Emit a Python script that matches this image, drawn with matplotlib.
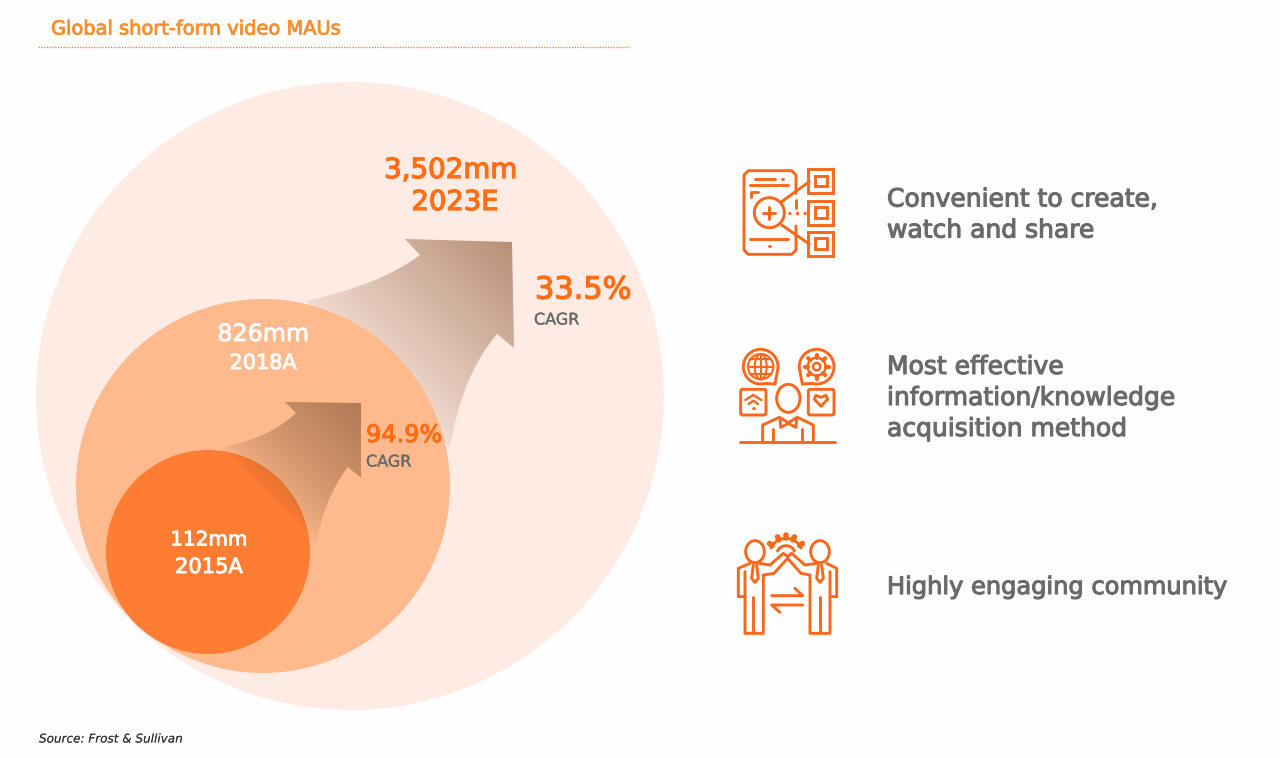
import numpy as np
import matplotlib
matplotlib.use("Agg")
import matplotlib.pyplot as plt
import matplotlib.patheffects as pe
from matplotlib.patches import Circle, Ellipse, FancyBboxPatch, PathPatch, Rectangle
from matplotlib.path import Path

plt.rcParams["font.family"] = "DejaVu Sans"

# Chart values
years = ["2015A", "2018A", "2023E"]
users = ["112mm", "826mm", "3,502mm"]
cagr = ["94.9%", "33.5%"]
cagr_label = "CAGR"
reasons = ["Convenient to create,\nwatch and share",
           "Most effective\ninformation/knowledge\nacquisition method",
           "Highly engaging community"]
title = "Global short-form video MAUs"
source = "Source: Frost & Sullivan"

ORANGE = "#ff6d14"
ICON = "#f9671b"
GREY = "#6a6a6a"

fig = plt.figure(figsize=(12.8, 7.58), dpi=100, facecolor="#fefefe")
ax = fig.add_axes([0, 0, 1, 1])


def gradient_arrow(verts, codes, box, rgb, a_start, a_end, t_start, zorder, gamma=1.0):
    # colour fades along the lower-left to upper-right diagonal of box
    x0, y0, x1, y1 = box
    xs, ys = np.meshgrid(np.linspace(0, 1, 300), np.linspace(1, 0, 300))
    t = (xs + ys) / 2
    t = np.clip((t - t_start) / (1 - t_start), 0, 1) ** gamma
    img = np.zeros((300, 300, 4))
    img[..., 0], img[..., 1], img[..., 2] = rgb[0], rgb[1], rgb[2]
    img[..., 3] = a_start + (a_end - a_start) * t
    im = ax.imshow(img, extent=(x0, x1, y1, y0), origin="upper", zorder=zorder,
                   interpolation="bilinear", aspect="auto")
    im.set_clip_path(PathPatch(Path(verts, codes), transform=ax.transData))


M, C3, LN = Path.MOVETO, Path.CURVE3, Path.LINETO

# -----------------------------
# Circles and arrows
# -----------------------------
ax.add_patch(Circle((350, 396), 314, fc="#feece4", ec="none", zorder=1))

big_verts = [(306, 301), (380, 285), (420, 255), (405, 239), (512, 242), (514, 348),
             (497, 334), (462, 375), (450, 447), (400, 400), (306, 301)]
big_codes = [M, C3, C3, LN, LN, LN, LN, C3, C3, LN, LN]
gradient_arrow(big_verts, big_codes, (290, 230, 520, 460), (0.55, 0.34, 0.20), 0.12, 0.66, 0.38, 2)

ax.add_patch(Circle((263, 486), 187, fc="#feba8c", ec="none", zorder=3))
ax.add_patch(Circle((208, 552), 102, fc="#ff7d32", ec="none", zorder=4))

small_verts = [(220, 448), (270, 438), (296, 413), (285, 402), (361, 403), (361, 478),
               (348, 467), (322, 500), (315, 553), (220, 448)]
small_codes = [M, C3, C3, LN, LN, LN, LN, C3, C3, LN]
gradient_arrow(small_verts, small_codes, (200, 400, 362, 562), (0.45, 0.28, 0.16), 0.0, 0.56, 0.415, 5, gamma=0.6)


# -----------------------------
# Labels
# -----------------------------
def label(x, y, s, size, color, stroke=0.6, **kw):
    ax.text(x, y, s, fontsize=size * 0.72, color=color, ha=kw.pop("ha", "center"), va="center",
            zorder=8, path_effects=[pe.withStroke(linewidth=stroke, foreground=color)], **kw)


label(51, 29, title, 19.4, "#f88f2c", ha="left")
ax.plot([38, 630], [47, 47], color="#f9804a", lw=1, ls=(0, (1, 1)), zorder=2)
label(39, 739, source, 12, "#333333", stroke=0, ha="left", style="italic")

label(451, 170, users[2], 27.7, ORANGE, stroke=0.9)
label(455, 203, years[2], 27.4, ORANGE, stroke=0.9)
label(263, 334, users[1], 23.8, "white")
label(263, 363, years[1], 20.8, "white")
label(209, 540, users[0], 20, "white")
label(209, 567, years[0], 21, "white")

label(535, 290, cagr[1], 30.4, ORANGE, stroke=0.9, ha="left")
label(534, 320, cagr_label, 16, GREY, stroke=0.3, ha="left")
label(366, 435, cagr[0], 24, ORANGE, stroke=0.8, ha="left")
label(366, 462, cagr_label, 16, GREY, stroke=0.3, ha="left")

for y, s, size in zip([215, 398, 587], reasons, [25, 25, 24.1]):
    label(887, y, s, size, GREY, stroke=0.8, ha="left", linespacing=1.37)


# -----------------------------
# Icons, drawn from the 3x zoom grid
# -----------------------------
def icon_tools(ox, oy, lw=2.1):
    def pt(x, y):
        return ox + x / 3, oy + y / 3

    def line(*pts, **kw):
        xy = [pt(*p) for p in pts]
        ax.plot([p[0] for p in xy], [p[1] for p in xy], color=ICON, lw=kw.get("lw", lw),
                ls=kw.get("ls", "-"), solid_capstyle="round", solid_joinstyle="round", zorder=8)

    def circle(x, y, r, width=lw):
        ax.add_patch(Circle(pt(x, y), r / 3, fc="none", ec=ICON, lw=width, zorder=8))

    def box(x0, y0, x1, y1, pad=0):
        if pad:
            ax.add_patch(FancyBboxPatch(pt(x0 + pad, y0 + pad), (x1 - x0 - 2 * pad) / 3, (y1 - y0 - 2 * pad) / 3,
                                        boxstyle=f"round,pad={pad / 3},rounding_size={pad / 3}",
                                        fc="none", ec=ICON, lw=lw, zorder=8))
        else:
            ax.add_patch(Rectangle(pt(x0, y0), (x1 - x0) / 3, (y1 - y0) / 3, fc="none", ec=ICON, lw=lw, zorder=8))

    return line, circle, box, pt


# phone with magnifier
line, circle, box, pt = icon_tools(720, 150)
line((228, 130), (228, 75), (215, 62), (85, 62), (72, 75), (72, 300), (85, 313), (215, 313), (228, 300), (228, 228))
line((228, 150), (228, 175))
line((105, 86), (165, 86))
line((185, 86), (188, 86))
line((90, 106), (205, 106))
line((92, 142), (92, 125), (115, 125))
circle(148, 188, 45)
line((148, 170), (148, 206))
line((130, 188), (166, 188))
line((185, 155), (268, 95))
line((185, 225), (268, 282))
line((205, 188), (265, 188), ls=(0, (1, 1.6)))
line((90, 267), (205, 267))
line((146, 288), (150, 288))
for y0 in [57, 152, 245]:
    box(265, y0, 338, y0 + 72)
    box(285, y0 + 20, 320, y0 + 52)

# person with four bubbles
line, circle, box, pt = icon_tools(720, 340)
for cx, sgn in [(122, 1), (290, -1)]:
    angles = np.radians(np.linspace(75, 375, 80))
    bx = cx + sgn * 52 * np.cos(angles)
    by = 80 + 52 * np.sin(angles)
    line((cx + sgn * 43, 132), *zip(bx, by), (cx + sgn * 43, 132))
circle(122, 80, 38, 1.5)
ax.add_patch(Ellipse(pt(122, 80), 36 / 3, 76 / 3, fc="none", ec=ICON, lw=1.5, zorder=8))
for y, half in [(58, 31), (80, 38), (102, 31)]:
    line((122 - half, y), (122 + half, y), lw=1.5)
line((122, 42), (122, 118), lw=1.5)
circle(290, 80, 11, 1.8)
circle(290, 80, 27, 1.8)
for a in np.radians(np.arange(0, 360, 45)):
    line((290 + 27 * np.cos(a), 80 + 27 * np.sin(a)), (290 + 36 * np.cos(a), 80 + 36 * np.sin(a)), lw=3)
box(62, 148, 138, 225, pad=6)
box(265, 148, 342, 225, pad=6)
line((76, 180), (100, 165), (124, 180), lw=1.7)
line((86, 192), (100, 182), (114, 192), lw=1.7)
line((98, 205), (102, 205))
line((303, 198), (283, 178), (288, 166), (303, 172), (318, 166), (323, 178), (303, 198))
ax.add_patch(Ellipse(pt(205, 175), 70 / 3, 84 / 3, fc="none", ec=ICON, lw=2.1, zorder=8))
line((128, 305), (128, 255), (178, 232), (205, 248), (232, 232), (280, 255), (280, 305))
line((180, 235), (182, 262), (205, 250), (228, 262), (230, 235))
line((160, 268), (160, 305))
line((245, 268), (245, 305))
line((60, 307), (345, 307))

# two people high five
line, circle, box, pt = icon_tools(720, 525)
ax.add_patch(Ellipse(pt(105, 80), 56 / 3, 66 / 3, fc="none", ec=ICON, lw=2.1, zorder=8))
ax.add_patch(Ellipse(pt(300, 80), 56 / 3, 66 / 3, fc="none", ec=ICON, lw=2.1, zorder=8))
line((75, 215), (55, 215), (55, 130), (90, 115))
line((320, 115), (350, 130), (350, 215), (330, 215))
line((118, 115), (150, 120), (190, 85), (203, 95), (215, 85), (255, 120), (290, 115))
line((75, 140), (75, 325), (130, 325), (130, 150), (162, 145), (203, 100), (243, 145), (270, 150), (270, 325), (330, 325), (330, 140))
line((100, 215), (100, 325))
line((300, 215), (300, 325))
line((100, 120), (95, 160), (105, 172), (115, 160), (110, 120))
line((295, 120), (290, 160), (300, 172), (310, 160), (305, 120))
angles = np.radians(np.linspace(205, 335, 40))
line(*zip(198 + 50 * np.cos(angles), 90 + 50 * np.sin(angles)))
line(*zip(198 + 28 * np.cos(angles), 90 + 28 * np.sin(angles)))
for a in np.radians([215, 245, 270, 295, 325]):
    line((198 + 50 * np.cos(a), 90 + 50 * np.sin(a)), (198 + 60 * np.cos(a), 90 + 60 * np.sin(a)), lw=4)
line((155, 212), (248, 212), (225, 190))
line((248, 240), (155, 240), (180, 262))

ax.set_xlim(0, 1280)
ax.set_ylim(758, 0)
ax.axis("off")

fig.savefig("out.png", dpi=100, facecolor=fig.get_facecolor())
